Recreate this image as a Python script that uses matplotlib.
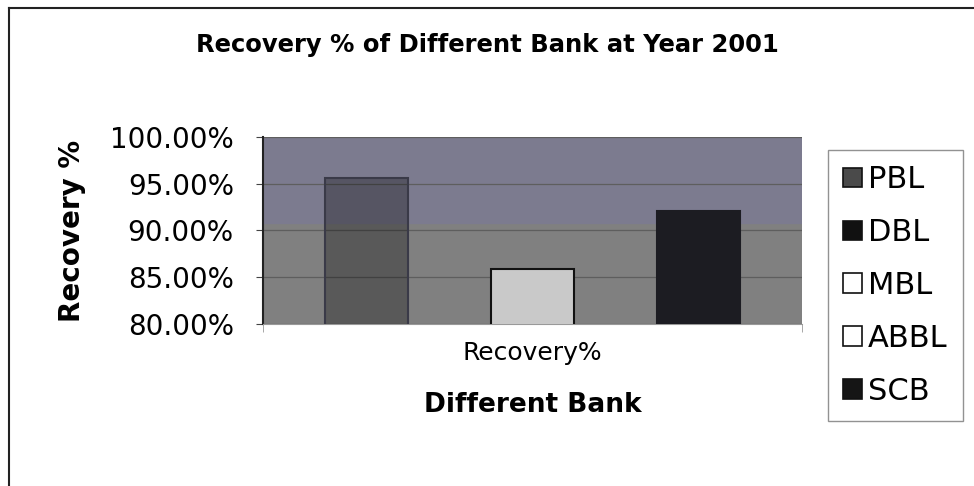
import numpy as np
import matplotlib.pyplot as plt
from matplotlib.lines import Line2D
from matplotlib.ticker import PercentFormatter

# datos del grafico
banks = ["PBL", "DBL", "MBL", "ABBL", "SCB"]
recovery = [0.9565, 0.75, 0.859, 0.75, 0.921]   # DBL y ABBL quedan por debajo de 80%
category = ["Recovery%"]
yticks = [0.80, 0.85, 0.90, 0.95, 1.00]

bar_face = [(0, 0, 0, 0.30), "#111111", "#c9c9c9", "#ffffff", "#1c1c22"]
bar_edge = ["#3a3a48", "#111111", "#111111", "#111111", "#1c1c22"]
legend_face = ["#4a4a4a", "#111111", "#ffffff", "#ffffff", "#151515"]

plt.rcParams["font.family"] = ["DejaVu Sans"]

fig = plt.figure(figsize=(9.74, 4.86), dpi=100)
ax = fig.add_axes([263/974, 1-324/486, 539/974, 187/486])

ax.set_facecolor("#808080")
ax.axhspan(0.908, 1.0, color="#7c7b8f", zorder=0)

n = len(banks)
w = 1.0/(n+1.5)
for i in range(n):
    xc = 0.5 + (i-2)*w
    ax.bar(xc, recovery[i], width=w, color=bar_face[i], edgecolor=bar_edge[i],
           linewidth=1.5, zorder=3, label=banks[i])

ax.set_xlim(0, 1)
ax.set_ylim(0.80, 1.00)
ax.set_yticks(yticks)
ax.yaxis.set_major_formatter(PercentFormatter(1.0, decimals=2))
ax.grid(axis="y", color="#5e5e5e", linewidth=0.9, zorder=1)
ax.set_xticks([0.5])
ax.set_xticklabels(category, fontsize=18)
ax.set_xticks([0, 1], minor=True)
ax.tick_params(axis="x", which="major", length=0, pad=12)
ax.tick_params(axis="x", which="minor", length=6, color="#999999")
ax.tick_params(axis="y", labelsize=20, length=5, pad=16, color="#444444")
for s in ["top", "right"]:
    ax.spines[s].set_visible(False)
ax.spines["left"].set_color("#222222")
ax.spines["left"].set_linewidth(1.5)
ax.spines["bottom"].set_color("#999999")

ax.set_ylabel("Recovery %", fontsize=20, fontweight="bold", labelpad=17)
ax.set_xlabel("Different Bank", fontsize=19, fontweight="bold", labelpad=20)

fig.text(0.5, 1-45/486, "Recovery % of Different Bank at Year 2001",
         ha="center", va="center", fontsize=17.5, fontweight="bold")

handles = [plt.Rectangle((0, 0), 1, 1, facecolor=legend_face[i], edgecolor="#111111", linewidth=1.2)
           for i in range(n)]
leg = fig.legend(handles, banks, loc="upper left", bbox_to_anchor=(828/974, 1-150/486),
                 fontsize=22, frameon=True, fancybox=False, edgecolor="#777777",
                 handlelength=0.6, handleheight=0.6, handletextpad=0.2,
                 labelspacing=0.78, borderpad=0.5, borderaxespad=0)
leg.get_frame().set_linewidth(1.0)

# marco exterior (solo arriba e izquierda visibles)
fig.add_artist(Line2D([9/974, 1.0], [1-8/486, 1-8/486], color="#222222", linewidth=1.5))
fig.add_artist(Line2D([9/974, 9/974], [0, 1-8/486], color="#222222", linewidth=1.5))

fig.savefig("out.png", dpi=100)
